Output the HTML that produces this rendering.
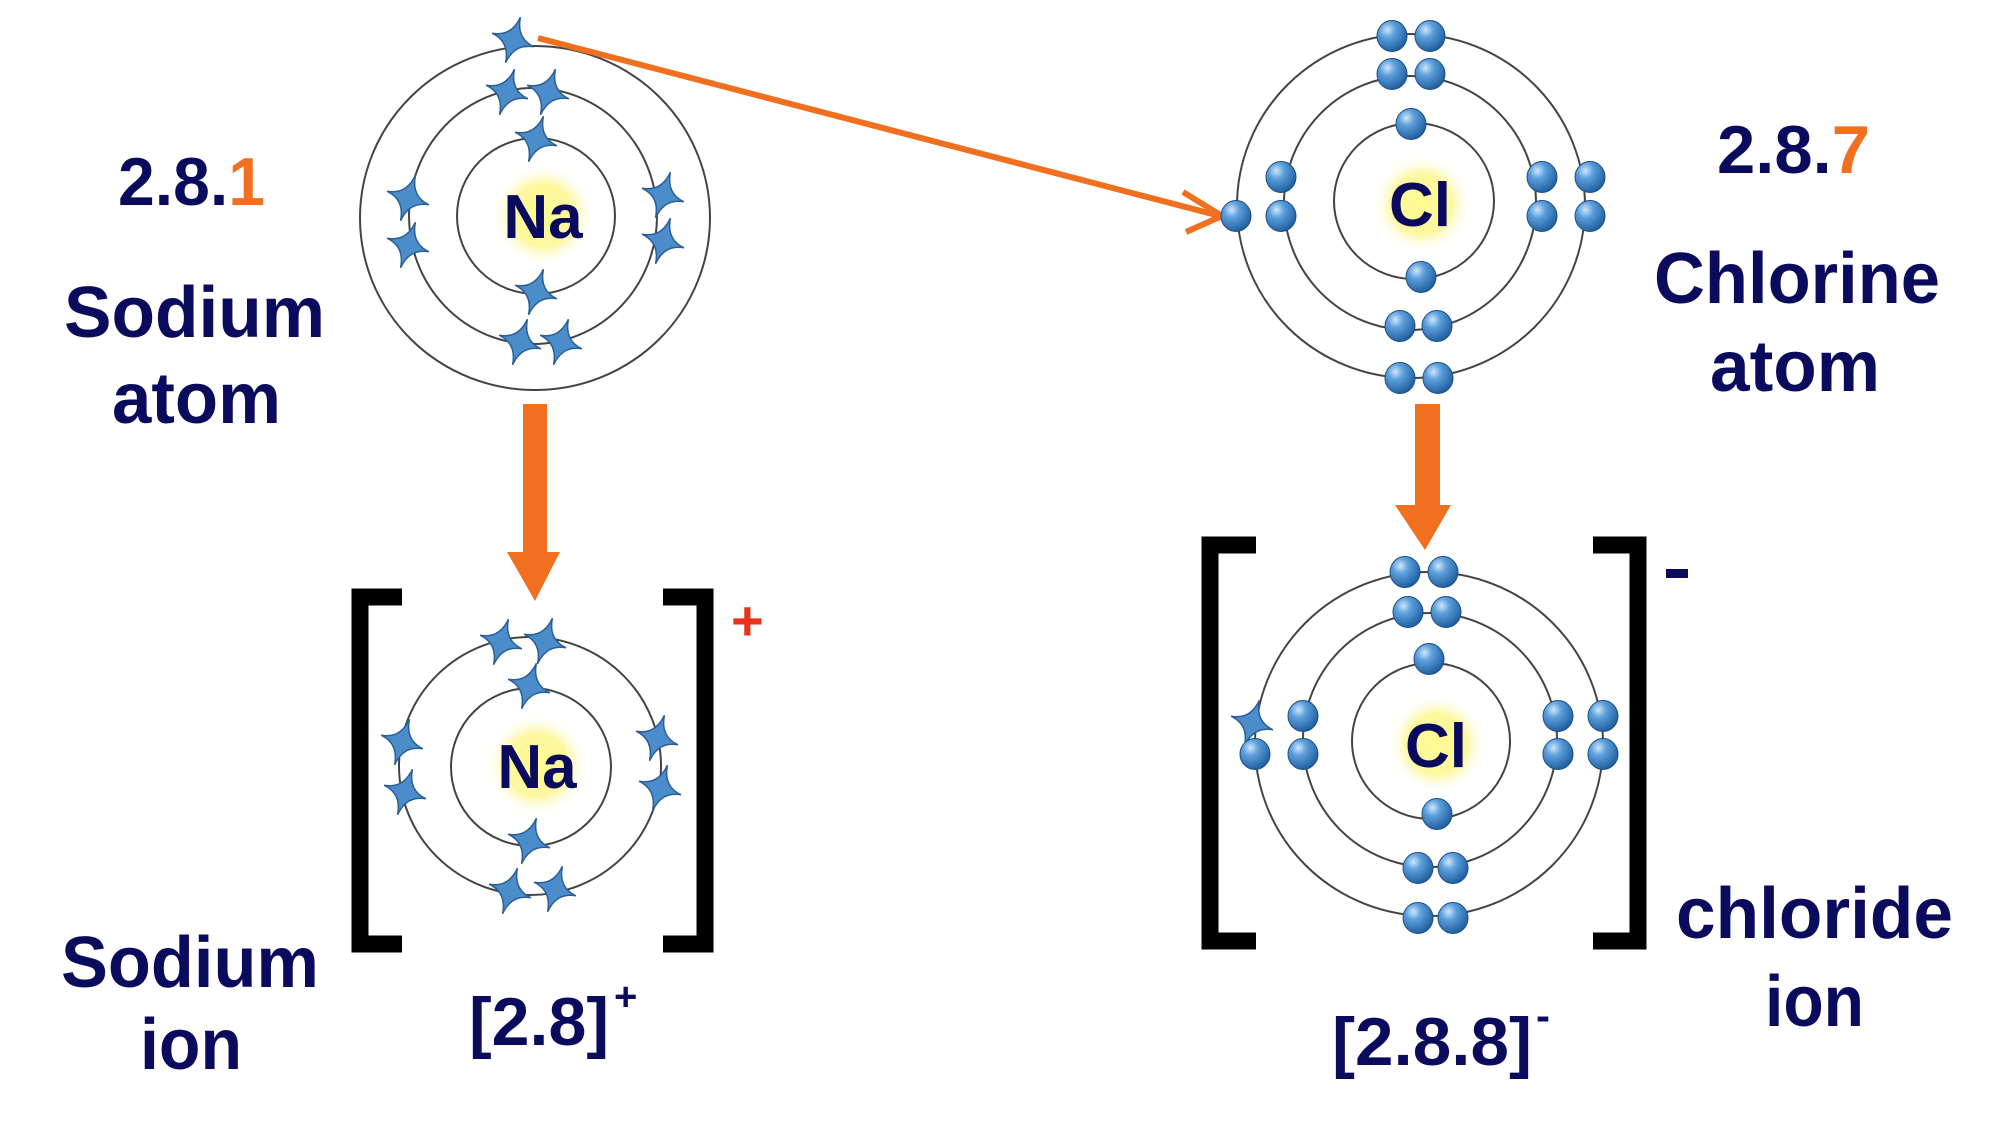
<!DOCTYPE html>
<html><head><meta charset="utf-8"><style>
html,body{margin:0;padding:0;background:#fff;}
svg{display:block;}
text{font-family:"Liberation Sans",Arial,sans-serif;font-weight:bold;}
</style></head><body>
<svg width="2000" height="1130" viewBox="0 0 2000 1130" xmlns="http://www.w3.org/2000/svg">
<defs>
<radialGradient id="ball" cx="0.35" cy="0.3" r="0.75">
<stop offset="0" stop-color="#cfe6fb"/><stop offset="0.35" stop-color="#5b9fdc"/><stop offset="1" stop-color="#1d5a99"/>
</radialGradient>
<radialGradient id="glow" cx="0.5" cy="0.5" r="0.5">
<stop offset="0" stop-color="#fffb90"/><stop offset="0.6" stop-color="#fdf7a0"/><stop offset="1" stop-color="#ffffff" stop-opacity="0"/>
</radialGradient>
<g id="st"><path d="M0,-24 Q2.5,-2.5 22,0 Q2.5,2.5 0,24 Q-2.5,2.5 -22,0 Q-2.5,-2.5 0,-24Z" fill="#4b8dcb" stroke="#2b5f96" stroke-width="1.5" transform="rotate(18)"/></g>
<g id="b"><ellipse cx="0" cy="0" rx="15" ry="15.5" fill="url(#ball)" stroke="#1d4f86" stroke-width="1"/></g>
</defs>

<!-- Sodium atom -->
<g fill="none" stroke="#444" stroke-width="2">
<ellipse cx="535" cy="218" rx="175" ry="172"/>
<ellipse cx="533" cy="216" rx="124" ry="128"/>
<ellipse cx="536" cy="216" rx="79" ry="78"/>
</g>
<circle cx="543" cy="215" r="52" fill="url(#glow)"/>
<text x="543" y="238" font-size="62" fill="#0b0b5e" text-anchor="middle">Na</text>
<use href="#st" x="513" y="40"/><use href="#st" x="507" y="92"/><use href="#st" x="548" y="92"/>
<use href="#st" x="536" y="139"/><use href="#st" x="536" y="292"/>
<use href="#st" x="520" y="342"/><use href="#st" x="561" y="342"/>
<use href="#st" x="408" y="198"/><use href="#st" x="408" y="245"/>
<use href="#st" x="663" y="195"/><use href="#st" x="663" y="241"/>

<text x="118" y="205" font-size="68" fill="#0b0b5e" textLength="147" lengthAdjust="spacingAndGlyphs">2.8.<tspan fill="#f07020">1</tspan></text>
<text x="64" y="337" font-size="72" fill="#0b0b5e" textLength="261" lengthAdjust="spacingAndGlyphs">Sodium</text>
<text x="112" y="423" font-size="72" fill="#0b0b5e" textLength="169" lengthAdjust="spacingAndGlyphs">atom</text>

<!-- diagonal arrow -->
<line x1="538" y1="38" x2="1220" y2="216" stroke="#f07020" stroke-width="6"/>
<polyline points="1183,192 1222,216 1186,232" fill="none" stroke="#f07020" stroke-width="6"/>

<!-- Chlorine atom -->
<g fill="none" stroke="#444" stroke-width="2">
<ellipse cx="1411" cy="206" rx="174" ry="172"/>
<ellipse cx="1410" cy="203" rx="126" ry="127"/>
<ellipse cx="1414" cy="201" rx="80" ry="78"/>
</g>
<circle cx="1422" cy="204" r="50" fill="url(#glow)"/>
<text x="1420" y="226" font-size="62" fill="#0b0b5e" text-anchor="middle">Cl</text>
<use href="#b" x="1392" y="36"/><use href="#b" x="1430" y="36"/>
<use href="#b" x="1392" y="74"/><use href="#b" x="1430" y="74"/>
<use href="#b" x="1411" y="124"/><use href="#b" x="1421" y="277"/>
<use href="#b" x="1400" y="326"/><use href="#b" x="1437" y="326"/>
<use href="#b" x="1400" y="378"/><use href="#b" x="1438" y="378"/>
<use href="#b" x="1236" y="216"/>
<use href="#b" x="1281" y="177"/><use href="#b" x="1281" y="216"/>
<use href="#b" x="1542" y="177"/><use href="#b" x="1542" y="216"/>
<use href="#b" x="1590" y="177"/><use href="#b" x="1590" y="216"/>

<text x="1717" y="173" font-size="68" fill="#0b0b5e" textLength="153" lengthAdjust="spacingAndGlyphs">2.8.<tspan fill="#f07020">7</tspan></text>
<text x="1654" y="303" font-size="72" fill="#0b0b5e" textLength="286" lengthAdjust="spacingAndGlyphs">Chlorine</text>
<text x="1710" y="391" font-size="72" fill="#0b0b5e" textLength="170" lengthAdjust="spacingAndGlyphs">atom</text>

<!-- down arrows -->
<rect x="523" y="404" width="24" height="150" fill="#f07020"/>
<polygon points="507,552 560,552 535,601" fill="#f07020"/>
<rect x="1415" y="404" width="25" height="104" fill="#f07020"/>
<polygon points="1395,505 1451,505 1425,550" fill="#f07020"/>

<!-- Sodium ion -->
<path d="M402,597 H360 V944 H402" fill="none" stroke="#000" stroke-width="17"/>
<path d="M663,597 H705 V944 H663" fill="none" stroke="#000" stroke-width="17"/>
<text x="731" y="640" font-size="56" fill="#e8321c">+</text>
<g fill="none" stroke="#444" stroke-width="2">
<ellipse cx="530" cy="766" rx="131" ry="129"/>
<ellipse cx="531" cy="767" rx="80" ry="79"/>
</g>
<circle cx="537" cy="765" r="52" fill="url(#glow)"/>
<text x="537" y="788" font-size="62" fill="#0b0b5e" text-anchor="middle">Na</text>
<use href="#st" x="501" y="642"/><use href="#st" x="545" y="641"/>
<use href="#st" x="529" y="686"/><use href="#st" x="529" y="841"/>
<use href="#st" x="510" y="891"/><use href="#st" x="555" y="889"/>
<use href="#st" x="402" y="742"/><use href="#st" x="405" y="792"/>
<use href="#st" x="657" y="738"/><use href="#st" x="660" y="788"/>

<text x="61" y="987" font-size="72" fill="#0b0b5e" textLength="258" lengthAdjust="spacingAndGlyphs">Sodium</text>
<text x="140" y="1069" font-size="72" fill="#0b0b5e" textLength="102" lengthAdjust="spacingAndGlyphs">ion</text>
<text x="469" y="1045" font-size="68" fill="#0b0b5e" textLength="140" lengthAdjust="spacingAndGlyphs">[2.8]</text>
<text x="614" y="1010" font-size="40" fill="#0b0b5e">+</text>

<!-- Chloride ion -->
<path d="M1256,545 H1210 V941 H1256" fill="none" stroke="#000" stroke-width="17"/>
<path d="M1593,545 H1638 V941 H1593" fill="none" stroke="#000" stroke-width="17"/>
<rect x="1666" y="569" width="22" height="9" fill="#0b0b5e"/>
<g fill="none" stroke="#444" stroke-width="2">
<ellipse cx="1429" cy="744" rx="174" ry="172"/>
<ellipse cx="1430" cy="740" rx="127" ry="127"/>
<ellipse cx="1431" cy="741" rx="79" ry="78"/>
</g>
<circle cx="1437" cy="744" r="50" fill="url(#glow)"/>
<text x="1436" y="767" font-size="62" fill="#0b0b5e" text-anchor="middle">Cl</text>
<use href="#b" x="1405" y="572"/><use href="#b" x="1443" y="572"/>
<use href="#b" x="1408" y="612"/><use href="#b" x="1446" y="612"/>
<use href="#b" x="1429" y="659"/><use href="#b" x="1437" y="814"/>
<use href="#b" x="1418" y="868"/><use href="#b" x="1453" y="868"/>
<use href="#b" x="1418" y="918"/><use href="#b" x="1453" y="918"/>
<use href="#st" x="1252" y="723"/><use href="#b" x="1255" y="754"/>
<use href="#b" x="1303" y="716"/><use href="#b" x="1303" y="754"/>
<use href="#b" x="1558" y="716"/><use href="#b" x="1558" y="754"/>
<use href="#b" x="1603" y="716"/><use href="#b" x="1603" y="754"/>

<text x="1676" y="938" font-size="72" fill="#0b0b5e" textLength="277" lengthAdjust="spacingAndGlyphs">chloride</text>
<text x="1765" y="1026" font-size="72" fill="#0b0b5e" textLength="99" lengthAdjust="spacingAndGlyphs">ion</text>
<text x="1332" y="1065" font-size="68" fill="#0b0b5e" textLength="200" lengthAdjust="spacingAndGlyphs">[2.8.8]</text>
<text x="1536" y="1030" font-size="42" fill="#0b0b5e">-</text>
</svg>
</body></html>
